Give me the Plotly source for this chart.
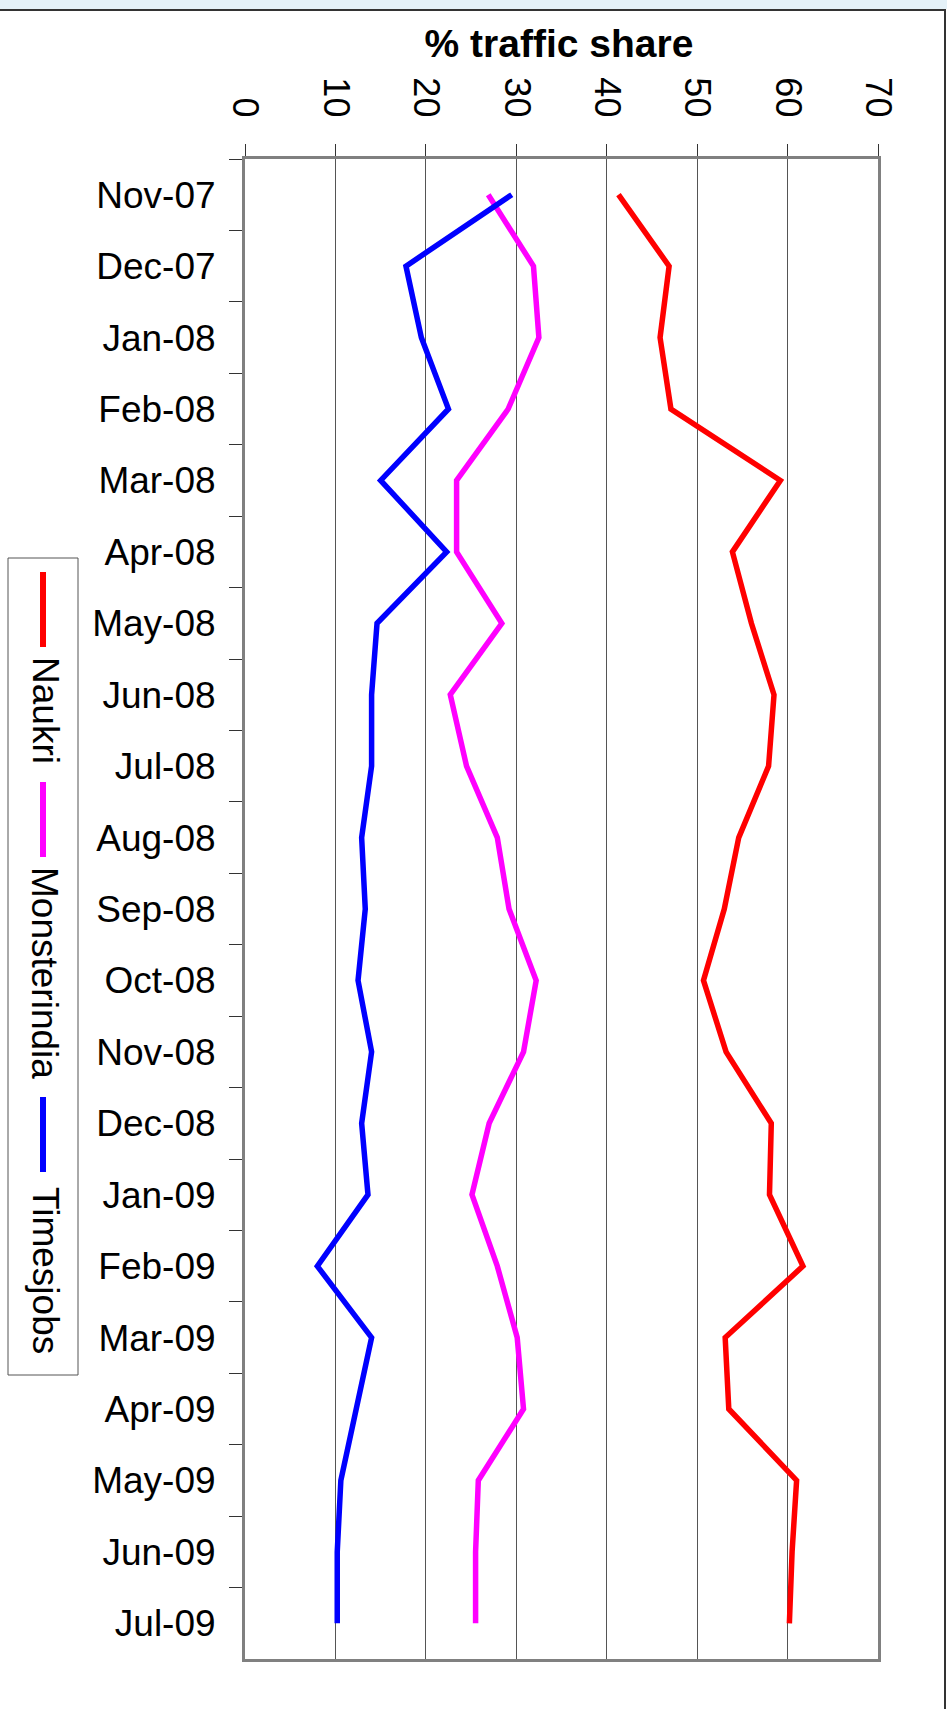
import plotly.graph_objects as go

# months (category axis, runs downward)
months = ["Nov-07", "Dec-07", "Jan-08", "Feb-08", "Mar-08", "Apr-08", "May-08",
          "Jun-08", "Jul-08", "Aug-08", "Sep-08", "Oct-08", "Nov-08", "Dec-08",
          "Jan-09", "Feb-09", "Mar-09", "Apr-09", "May-09", "Jun-09", "Jul-09"]

# % traffic share per site
naukri = [41.3, 46.9, 45.9, 47.1, 59.2, 53.9, 56.0, 58.5, 57.9, 54.6, 53.0,
          50.7, 53.2, 58.2, 58.0, 61.7, 53.1, 53.5, 61.0, 60.5, 60.2]
monster = [26.9, 31.9, 32.5, 29.1, 23.4, 23.4, 28.4, 22.7, 24.5, 27.9, 29.2,
           32.2, 30.8, 27.0, 25.1, 27.9, 30.1, 30.8, 25.8, 25.5, 25.5]
times = [29.5, 17.8, 19.5, 22.5, 15.0, 22.3, 14.6, 14.0, 14.0, 12.9, 13.3,
         12.5, 14.0, 12.9, 13.6, 8.0, 14.0, 12.3, 10.6, 10.2, 10.2]

names = ["Naukri", "Monsterindia", "Timesjobs"]
colors = ["#FF0000", "#FF00FF", "#0000FF"]
value_ticks = [0, 10, 20, 30, 40, 50, 60, 70]

W, H = 947, 1709
PL, PR, PT, PB = 245, 878, 159, 1659
FONT = "Liberation Sans, Arial, sans-serif"


def fx(px):
    return (px - PL) / (PR - PL)


def fy(py):
    return (PB - py) / (PB - PT)


fig = go.Figure()
for name, vals, col in zip(names, [naukri, monster, times], colors):
    fig.add_trace(go.Scatter(x=vals, y=months, mode="lines", name=name,
                             line=dict(color=col, width=5.5)))

shapes = []
annotations = []

# top strip of the page and outer border
shapes.append(dict(type="rect", xref="paper", yref="paper", x0=fx(0), x1=fx(W),
                   y0=fy(0), y1=fy(9), fillcolor="#e4f1f8", line=dict(width=0)))
shapes.append(dict(type="line", xref="paper", yref="paper", x0=fx(0), x1=fx(946),
                   y0=fy(10), y1=fy(10), line=dict(color="#333333", width=2)))
shapes.append(dict(type="line", xref="paper", yref="paper", x0=fx(945), x1=fx(945),
                   y0=fy(10), y1=fy(H), line=dict(color="#333333", width=2)))

# rotated legend (line key, then text reading downward)
shapes.append(dict(type="rect", xref="paper", yref="paper", x0=fx(8), x1=fx(78),
                   y0=fy(558), y1=fy(1375), line=dict(color="#555555", width=1),
                   fillcolor="white"))
key_top = [572, 782, 1097]
text_mid = [710, 973, 1270]
for name, col, ys, tm in zip(names, colors, key_top, text_mid):
    shapes.append(dict(type="line", xref="paper", yref="paper", x0=fx(43), x1=fx(43),
                       y0=fy(ys), y1=fy(ys + 75), line=dict(color=col, width=6)))
    annotations.append(dict(xref="paper", yref="paper", x=fx(45), y=fy(tm),
                            text=name, textangle=90, showarrow=False,
                            xanchor="center", yanchor="middle",
                            font=dict(family=FONT, size=37, color="black")))

fig.update_layout(
    width=W, height=H,
    margin=dict(l=PL, r=W - PR, t=PT, b=H - PB, pad=0),
    paper_bgcolor="white", plot_bgcolor="white",
    showlegend=False,
    title=dict(text="<b>% traffic share</b>", x=fx(559), xref="paper", xanchor="center",
               y=1 - 43 / H, yref="container", yanchor="middle",
               font=dict(family=FONT, size=39, color="black")),
    shapes=shapes,
    annotations=annotations,
)

fig.update_xaxes(side="top", range=[0, 70], tickvals=value_ticks,
                 tickangle=90, tickfont=dict(family=FONT, size=36, color="black"),
                 showgrid=True, gridcolor="#555555", gridwidth=1,
                 ticks="outside", ticklen=12, tickcolor="#333333", tickwidth=1,
                 ticklabelstandoff=14,
                 showline=True, linecolor="#808080", linewidth=3, mirror=True,
                 zeroline=False)
fig.update_yaxes(type="category", categoryorder="array", categoryarray=months,
                 range=[len(months) - 0.5, -0.5], autorange=False,
                 tickson="boundaries",
                 tickfont=dict(family=FONT, size=37, color="black"),
                 showgrid=False, ticks="outside", ticklen=13, tickcolor="#333333",
                 tickwidth=1, ticklabelstandoff=19,
                 showline=True, linecolor="#808080", linewidth=3, mirror=True)

fig.write_html("out.html", config={"displayModeBar": False},
               post_script="document.body.style.margin='0';document.body.style.overflow='hidden';")
